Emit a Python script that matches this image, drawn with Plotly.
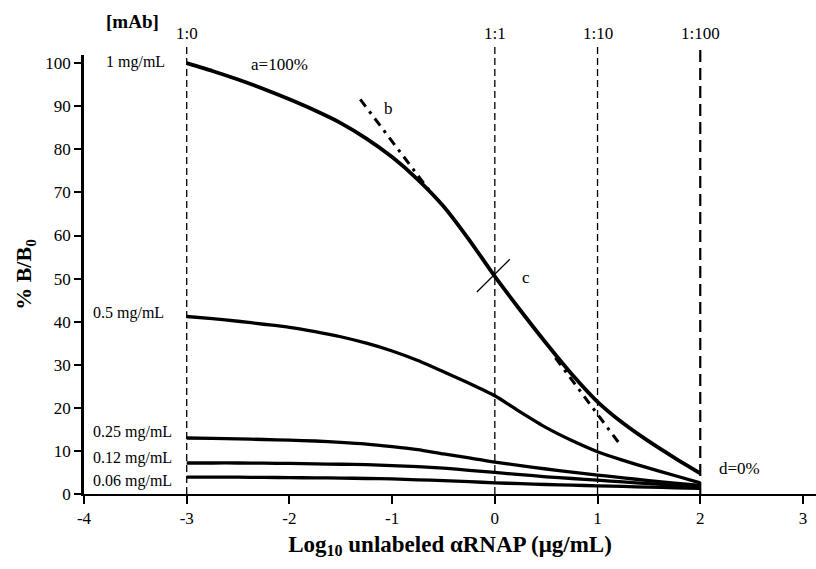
import plotly.graph_objects as go

# ---- data ----
x_pts = [-3, -2.75, -2.5, -2.25, -2, -1.75, -1.5, -1.25, -1, -0.75, -0.5, -0.25,
         0, 0.25, 0.5, 0.75, 1, 1.25, 1.5, 1.75, 2]
y_1mg = [100, 98.2, 96.2, 94.0, 91.6, 89.0, 86.1, 82.5, 78.2, 73.0, 66.8, 59.0,
         50.5, 42.6, 35.0, 27.8, 21.4, 16.4, 12.2, 8.4, 4.8]
y_05mg = [41.2, 40.7, 40.1, 39.4, 38.7, 37.7, 36.5, 35.0, 33.2, 31.0, 28.4, 25.7,
          22.8, 19.0, 15.4, 12.4, 9.8, 7.8, 6.0, 4.3, 2.6]
y_025mg = [13.0, 12.9, 12.8, 12.65, 12.5, 12.3, 12.0, 11.6, 11.0, 10.3, 9.3, 8.4,
           7.4, 6.6, 5.8, 5.1, 4.4, 3.75, 3.1, 2.5, 2.0]
y_012mg = [7.2, 7.2, 7.2, 7.15, 7.1, 7.0, 6.9, 6.8, 6.6, 6.35, 6.0, 5.5,
           5.0, 4.5, 4.0, 3.6, 3.2, 2.8, 2.4, 2.05, 1.7]
y_006mg = [3.9, 3.9, 3.9, 3.85, 3.8, 3.75, 3.7, 3.6, 3.5, 3.3, 3.1, 2.85,
           2.6, 2.4, 2.2, 2.05, 1.9, 1.75, 1.6, 1.45, 1.3]

series = [y_1mg, y_05mg, y_025mg, y_012mg, y_006mg]
conc_labels = ["1 mg/mL", "0.5 mg/mL", "0.25 mg/mL", "0.12 mg/mL", "0.06 mg/mL"]
conc_label_x = [-3.81, -3.93, -3.93, -3.93, -3.93]
conc_label_y = [100.3, 42.0, 14.3, 8.4, 3.0]

# tangent (b) segments
tan_x1 = [-1.31, -0.64]
tan_y1 = [91.6, 70.5]
tan_x2 = [0.59, 1.21]
tan_y2 = [31.6, 11.8]

# mark c (IC50 crossing)
c_x = [-0.175, 0.146]
c_y = [46.9, 54.5]

mab_x = [-3, 0, 1, 2]
mab_labels = ["1:0", "1:1", "1:10", "1:100"]

x_ticks = [-4, -3, -2, -1, 0, 1, 2, 3]
y_ticks = [0, 10, 20, 30, 40, 50, 60, 70, 80, 90, 100]

FONT = "Liberation Serif"

fig = go.Figure()

widths = [3.8, 3.3, 3.3, 3.3, 3.3]
for ys, w in zip(series, widths):
    fig.add_trace(go.Scatter(x=x_pts, y=ys, mode="lines",
                             line=dict(color="black", width=w, shape="spline", smoothing=0.6),
                             showlegend=False, hoverinfo="skip"))

for tx, ty in [(tan_x1, tan_y1), (tan_x2, tan_y2)]:
    fig.add_trace(go.Scatter(x=tx, y=ty, mode="lines",
                             line=dict(color="black", width=3, dash="9px,6px,3px,6px"),
                             showlegend=False, hoverinfo="skip"))

fig.add_trace(go.Scatter(x=c_x, y=c_y, mode="lines",
                         line=dict(color="black", width=1.2),
                         showlegend=False, hoverinfo="skip"))

# vertical dashed lines + ratio labels
for xv, lab in zip(mab_x, mab_labels):
    if xv == 2:
        ln = dict(color="black", width=2.2, dash="12px,6px")
    else:
        ln = dict(color="black", width=1.3, dash="7px,4px")
    fig.add_shape(type="line", xref="x", yref="paper", x0=xv, x1=xv, y0=0, y1=1.023,
                  line=ln, layer="below")
    fig.add_annotation(x=xv, y=1.05, xref="x", yref="paper", text=lab, showarrow=False,
                       font=dict(family=FONT, size=17, color="black"), yanchor="middle")

fig.add_annotation(x=-3.53, y=1.077, xref="x", yref="paper", text="<b>[mAb]</b>", showarrow=False,
                   font=dict(family=FONT, size=19, color="black"), yanchor="middle")

for lab, lx, ly in zip(conc_labels, conc_label_x, conc_label_y):
    fig.add_annotation(x=lx, y=ly, xref="x", yref="y", text=lab, showarrow=False,
                       xanchor="left", yanchor="middle",
                       font=dict(family=FONT, size=16, color="black"))

for txt, tx, ty in [("a=100%", -2.10, 99.8), ("b", -1.04, 89.5), ("c", 0.30, 50.3), ("d=0%", 2.38, 6.0)]:
    fig.add_annotation(x=tx, y=ty, xref="x", yref="y", text=txt, showarrow=False,
                       yanchor="middle", font=dict(family=FONT, size=17, color="black"))

fig.update_layout(
    width=816, height=569,
    margin=dict(l=84, r=0, t=55, b=75),
    paper_bgcolor="white", plot_bgcolor="white",
    font=dict(family=FONT, size=16, color="black"),
    xaxis=dict(range=[-4, 3.127], tickvals=x_ticks, ticktext=[str(v) for v in x_ticks],
               showgrid=False, zeroline=False, showline=True, linecolor="black", linewidth=2,
               ticks="outside", ticklen=8, tickwidth=2, tickcolor="black",
               tickfont=dict(family=FONT, size=17, color="black"),
               title=dict(text="<b>Log<sub>10</sub> unlabeled αRNAP (μg/mL)</b>",
                          font=dict(family=FONT, size=23, color="black"), standoff=8)),
    yaxis=dict(range=[0, 101.9], tickvals=y_ticks, showgrid=False, zeroline=False,
               showline=True, linecolor="black", linewidth=2.5,
               ticks="outside", ticklen=7, tickwidth=2, tickcolor="black",
               tickfont=dict(family=FONT, size=17, color="black"),
               title=dict(text="<b>% B/B<sub>0</sub></b>",
                          font=dict(family=FONT, size=22, color="black"), standoff=8)),
)

fig.write_html("out.html")
